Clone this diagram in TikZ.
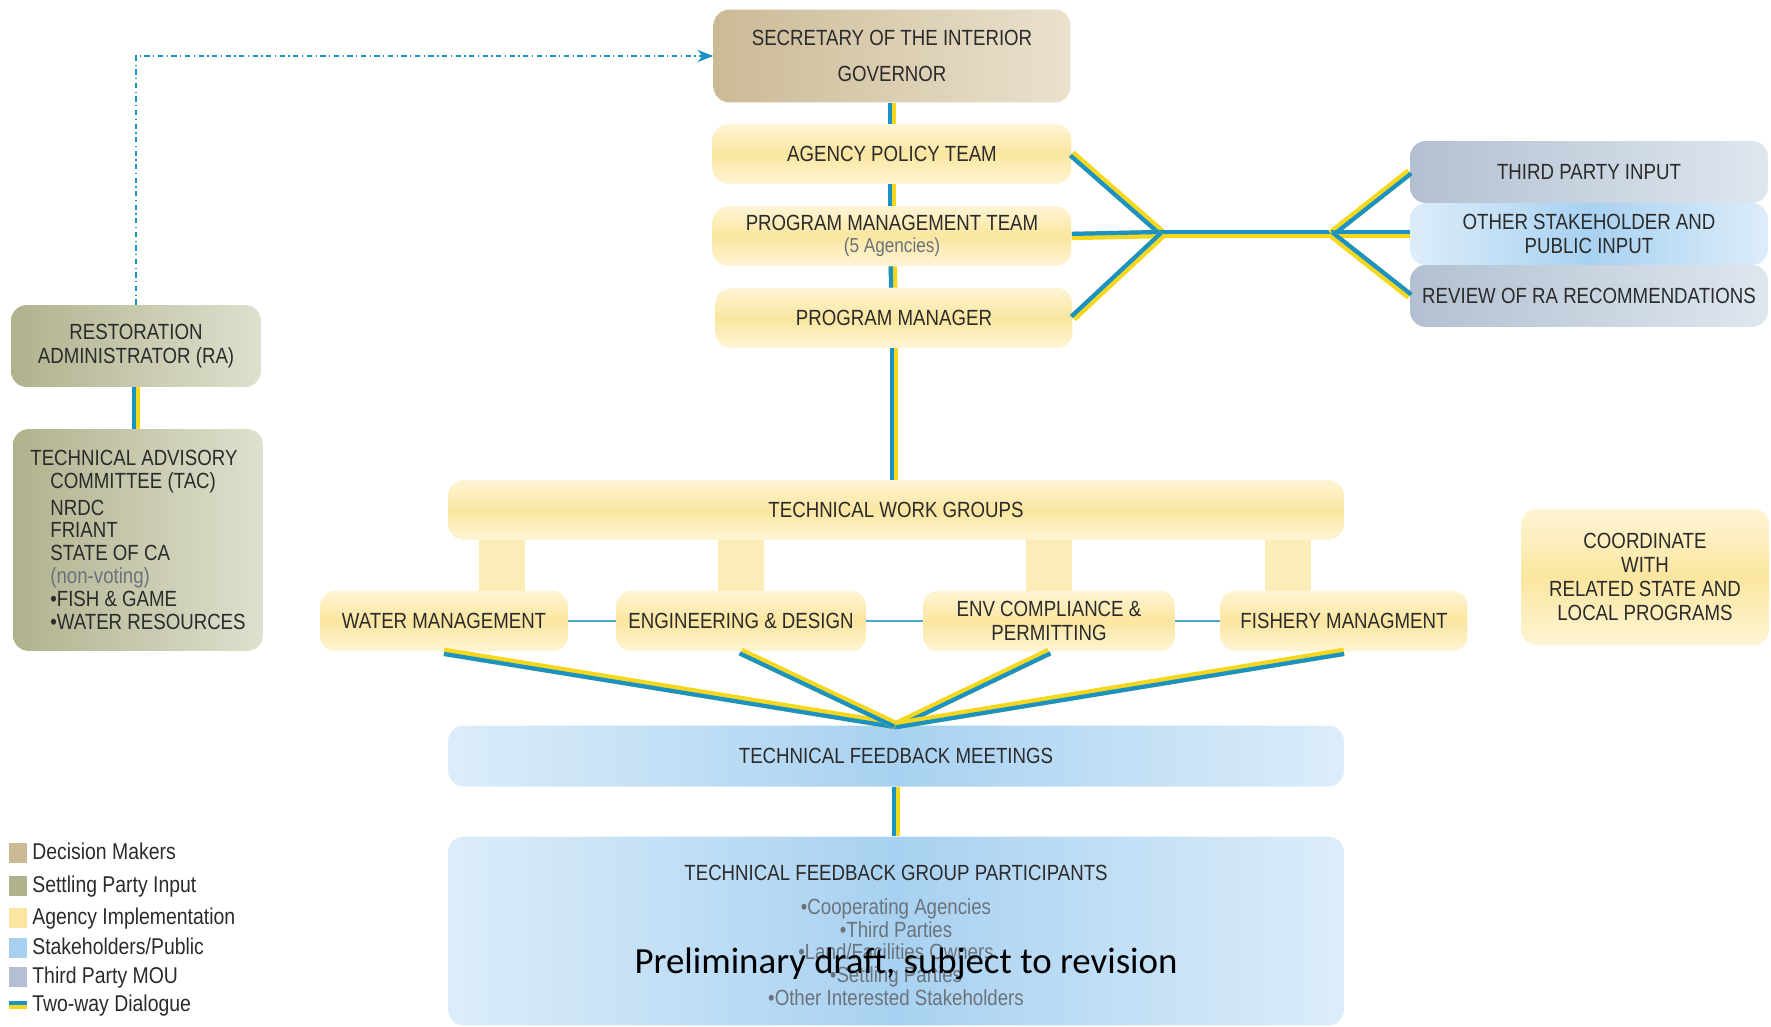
\documentclass[tikz,border=0pt]{standalone}
\usepackage{fontspec}
\setmainfont{Liberation Sans}[FakeStretch=0.85]
\newfontfamily\draftfont{Carlito}
\usetikzlibrary{arrows.meta}

\definecolor{inkgray}{HTML}{2B2B2B}
\definecolor{softgray}{HTML}{6A737B}
\definecolor{dlgblue}{HTML}{1A93C4}
\definecolor{dlgyellow}{HTML}{F5D71E}
\definecolor{tanD}{HTML}{CBBA96}
\definecolor{tanL}{HTML}{EAE1CD}
\definecolor{oliveD}{HTML}{B0B28E}
\definecolor{oliveL}{HTML}{DFE0CE}
\definecolor{yelD}{HTML}{FBE6A0}
\definecolor{yelL}{HTML}{FEF5D5}
\definecolor{skyD}{HTML}{A8D1F1}
\definecolor{skyL}{HTML}{DCEDFA}
\definecolor{mouD}{HTML}{B2C0D1}
\definecolor{mouL}{HTML}{DFE7EF}

\newcommand{\wgfont}{\fontsize{12.5}{13.5}\selectfont}
\newcommand{\tacfont}{\fontsize{12.5}{13}\selectfont}

\begin{document}
\begin{tikzpicture}[x=0.02cm, y=-0.02cm,
    base/.style={rounded corners=9pt, align=center, font=\wgfont, text=inkgray, inner sep=2pt},
    decision/.style={base, shade, left color=tanD, right color=tanL},
    settling/.style={base, shade, left color=oliveD, right color=oliveL},
    agency/.style={base, shade, top color=yelL, bottom color=yelL, middle color=yelD},
    public/.style={base, shade, left color=skyL, right color=skyL, middle color=skyD},
    mou/.style={base, shade, left color=mouD, right color=mouL},
    stub/.style={fill=yelD!75},
    twoway/.style={draw=dlgyellow, line width=4.8pt, postaction={draw=dlgblue, line width=2.4pt, transform canvas={#1}}},
    twoway/.default={xshift=-1.2pt},
    link/.style={draw=dlgblue!80, line width=0.9pt},
    back/.style={draw=dlgblue, line width=0.7pt, dash dot, -{Stealth[length=9pt, width=7pt]}},
    legendtext/.style={font=\fontsize{13}{15}\selectfont, text=inkgray, anchor=west, inner sep=0pt, text height=9.5pt, text depth=2.5pt}
  ]
  \useasboundingbox (0,0) rectangle (1771,1027);

  % decision makers and agency teams
  \node[decision, minimum width=7.14cm, minimum height=1.86cm] (sec) at (892,56)
    {SECRETARY OF THE INTERIOR\\[6.5pt]GOVERNOR};
  \node[agency, minimum width=7.18cm, minimum height=1.2cm] (apt) at (892,154) {AGENCY POLICY TEAM};
  \node[agency, minimum width=7.18cm, minimum height=1.2cm] (pmt) at (892,236)
    {PROGRAM MANAGEMENT TEAM\\[-1pt]{\fontsize{11.5}{13}\selectfont\color{softgray}(5 Agencies)}};
  \node[agency, minimum width=7.14cm, minimum height=1.2cm] (pm) at (894,318) {PROGRAM MANAGER};

  % third party and public input
  \node[mou, minimum width=7.16cm, minimum height=1.24cm] (tpi) at (1589,172) {THIRD PARTY INPUT};
  \node[public, minimum width=7.16cm, minimum height=1.24cm] (osp) at (1589,234) {OTHER STAKEHOLDER AND\\PUBLIC INPUT};
  \node[mou, minimum width=7.16cm, minimum height=1.24cm] (rev) at (1589,296) {REVIEW OF RA RECOMMENDATIONS};

  % settling parties
  \node[settling, minimum width=5cm, minimum height=1.64cm] (ra) at (136,346) {RESTORATION\\ADMINISTRATOR (RA)};
  \node[settling, minimum width=5cm, minimum height=4.44cm, align=left, font=\tacfont] (tac) at (138,540)
    {TECHNICAL ADVISORY\\
     \hspace*{0.4cm}COMMITTEE (TAC)\\[2pt]
     \hspace*{0.4cm}NRDC\\
     \hspace*{0.4cm}FRIANT\\
     \hspace*{0.4cm}STATE OF CA\\
     \hspace*{0.4cm}{\color{softgray}(non-voting)}\\
     \hspace*{0.4cm}•FISH \& GAME\\
     \hspace*{0.4cm}•WATER RESOURCES};

  % work groups
  \node[agency, minimum width=17.92cm, minimum height=1.2cm] (twg) at (896,510) {TECHNICAL WORK GROUPS};
  \node[agency, minimum width=4.96cm, minimum height=1.22cm] (wm) at (444,621) {WATER MANAGEMENT};
  \node[agency, minimum width=5cm, minimum height=1.22cm] (ed) at (741,621) {ENGINEERING \& DESIGN};
  \node[agency, minimum width=5.04cm, minimum height=1.22cm] (env) at (1049,621) {ENV COMPLIANCE \&\\PERMITTING};
  \node[agency, minimum width=4.94cm, minimum height=1.22cm] (fm) at (1344,621) {FISHERY MANAGMENT};
  \node[agency, minimum width=4.96cm, minimum height=2.74cm] (coord) at (1645,577)
    {COORDINATE\\WITH\\RELATED STATE AND\\LOCAL PROGRAMS};
  \foreach \sx in {502, 741, 1049, 1288}
    \fill[stub] (\sx-23,540) rectangle (\sx+23,591);

  % feedback
  \node[public, minimum width=17.92cm, minimum height=1.22cm] (tfm) at (896,756) {TECHNICAL FEEDBACK MEETINGS};
  \node[public, minimum width=17.92cm, minimum height=3.78cm] (tfgp) at (896,931) {};
  \node[font=\wgfont, text=inkgray, anchor=north] (tfgptitle) at ([yshift=-0.46cm]tfgp.north) {TECHNICAL FEEDBACK GROUP PARTICIPANTS};
  \node[font=\fontsize{12.5}{13}\selectfont, text=softgray, align=center, anchor=north] (tfgplist) at ([yshift=-1.12cm]tfgp.north)
    {•Cooperating Agencies\\•Third Parties\\•Land/Facilities Owners\\•Settling Parties\\•Other Interested Stakeholders};

  % two-way dialogue
  \draw[twoway] (sec) -- (apt);
  \draw[twoway] (apt) -- (pmt);
  \draw[twoway] (pmt) -- (pm);
  \draw[twoway] (pm.south) -- (pm.south |- twg.north);
  \draw[twoway] (ra) -- (ra |- tac.north);
  \draw[twoway] (tfm.south) -- (tfm.south |- tfgp.north);

  \coordinate (jl) at (1163,234);
  \coordinate (jr) at (1331,234);
  \draw[twoway={xshift=-0.85pt, yshift=-0.85pt}] (apt.east) -- (jl);
  \draw[twoway={yshift=1.2pt}] (pmt.east) -- (jl);
  \draw[twoway={xshift=-0.85pt, yshift=0.85pt}] (pm.east) -- (jl);
  \draw[twoway={yshift=1.2pt}] (jl) -- (jr);
  \draw[twoway={xshift=0.85pt, yshift=-0.85pt}] (jr) -- (tpi.west);
  \draw[twoway={yshift=1.2pt}] (jr) -- (osp.west);
  \draw[twoway={xshift=0.85pt, yshift=0.85pt}] (jr) -- (rev.west);

  \foreach \grp/\dx/\dy in {wm/0/-1.2, ed/-0.85/-0.85, env/0.85/-0.85, fm/0/-1.2}
    \draw[twoway={xshift=\dx pt, yshift=\dy pt}] (\grp.south) -- (tfm.north);

  \draw[link] (wm) -- (ed);
  \draw[link] (ed) -- (env);
  \draw[link] (env) -- (fm);

  \draw[back] (ra.north) |- (sec.west);

  % legend
  \foreach \col/\lab/\ly [count=\i] in {tanD/Decision Makers/853, oliveD/Settling Party Input/886, yelD/Agency Implementation/918, skyD/{Stakeholders/Public}/948, mouD/Third Party MOU/977} {
    \fill[\col] (9,\ly-10) rectangle (27,\ly+10);
    \node[legendtext] (leg\i) at (32,\ly) {\lab};
  }
  \draw[twoway={yshift=1.2pt}] (9,1005) -- (27,1005);
  \node[legendtext] (leg6) at (32,1005) {Two-way Dialogue};

  \node[font=\draftfont\fontsize{21}{25}\selectfont, text=black] (draft) at (906,964) {Preliminary draft, subject to revision};
\end{tikzpicture}
\end{document}
